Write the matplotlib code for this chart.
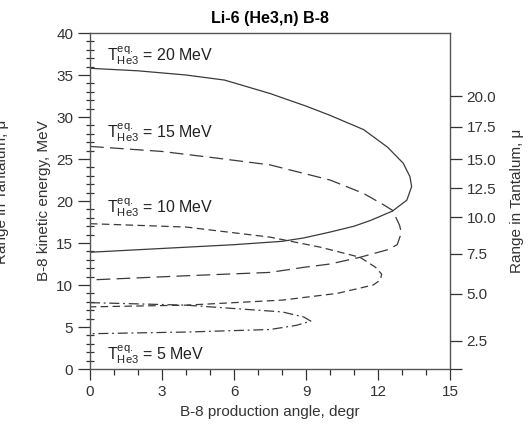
import matplotlib
matplotlib.use("Agg")
import matplotlib.pyplot as plt
from matplotlib.ticker import MultipleLocator

plt.rcParams['font.family'] = ['Liberation Sans', 'DejaVu Sans']
plt.rcParams['mathtext.default'] = 'regular'
plt.rcParams['font.size'] = 11

# B-8 angle (degr) vs kinetic energy (MeV), loop per He3 energy
ang_20 = [0, 2, 4, 5.6, 7.5, 9.0, 10.0, 11.4, 12.4, 13.05, 13.33, 13.4, 13.2, 12.6, 11.7, 11.0, 10.0, 8.9, 8.0, 6.0, 4.0, 2.0, 0]
en_20 = [35.8, 35.5, 35.0, 34.4, 32.8, 31.3, 30.2, 28.5, 26.4, 24.5, 22.9, 21.7, 20.1, 18.8, 17.7, 17.0, 16.3, 15.6, 15.2, 14.8, 14.5, 14.2, 13.9]

ang_15 = [0, 3, 5.3, 7.5, 10.0, 11.4, 12.2, 12.6, 12.9, 12.97, 12.8, 12.4, 11.25, 10.0, 8.9, 7.5, 4.0, 0]
en_15 = [26.5, 25.9, 25.1, 24.3, 22.5, 20.9, 19.6, 18.9, 17.1, 16.2, 14.8, 14.2, 13.3, 12.5, 12.1, 11.5, 11.1, 10.6]

ang_10 = [0, 4.0, 7.5, 9.6, 11.25, 11.9, 12.15, 12.1, 11.8, 10.3, 8.0, 4.0, 0]
en_10 = [17.3, 16.9, 15.7, 14.5, 13.3, 12.1, 11.3, 10.6, 10.0, 9.0, 8.2, 7.6, 7.4]

ang_5 = [0, 4.0, 8.0, 8.9, 9.2, 8.6, 7.5, 4.0, 0]
en_5 = [7.9, 7.6, 6.8, 6.2, 5.7, 5.2, 4.7, 4.4, 4.2]

labels = ['20', '15', '10', '5']
label_y = [37.3, 28.1, 19.2, 1.7]

# right axis: range in tantalum, placed at the matching energy
range_ticks = ['20.0', '17.5', '15.0', '12.5', '10.0', '7.5', '5.0', '2.5', '']
range_energy = [32.5, 28.85, 24.96, 21.5, 18.06, 13.7, 8.93, 3.37, 0]

fig = plt.figure(figsize=(5.31, 4.26), dpi=100)
ax = fig.add_axes([0.1695, 0.1338, 0.678, 0.7887])
lc = '#3a3a3a'

ax.plot(ang_20, en_20, color=lc, lw=0.9, ls='-')
ax.plot(ang_15, en_15, color=lc, lw=0.9, ls=(0, (11, 5)))
ax.plot(ang_10, en_10, color=lc, lw=0.9, ls=(0, (6, 3.5)))
ax.plot(ang_5, en_5, color=lc, lw=0.9, ls=(0, (8, 3, 1.5, 3)))

for lab, yy in zip(labels, label_y):
    ax.text(0.7, yy, r'T$^{eq.}_{He3}$ = ' + lab + ' MeV', fontsize=11.5,
            va='center', ha='left', color='#222222')

ax.set_xlim(0, 15)
ax.set_ylim(0, 40)
ax.xaxis.set_major_locator(MultipleLocator(3))
ax.xaxis.set_minor_locator(MultipleLocator(1))
ax.yaxis.set_major_locator(MultipleLocator(5))
ax.yaxis.set_minor_locator(MultipleLocator(1))
ax.tick_params(axis='x', which='major', direction='out', length=8, width=0.9, colors='#333333', labelsize=11)
ax.tick_params(axis='x', which='minor', direction='out', length=4, width=0.9, colors='#333333')
ax.tick_params(axis='y', which='major', direction='out', length=8.5, width=0.9, colors='#333333', labelsize=11)
ax.tick_params(axis='y', which='minor', direction='inout', length=6, width=0.9, colors='#333333')
for sp in ax.spines.values():
    sp.set_color('#555555')
    sp.set_linewidth(1.0)

ax.set_xlabel('B-8 production angle, degr', color='#333333', fontsize=11)
ax.set_ylabel('B-8 kinetic energy, MeV', color='#333333', fontsize=11, labelpad=4)
ax.set_title('Li-6 (He3,n) B-8', fontweight='bold', fontsize=11.5, pad=7)

ax2 = ax.twinx()
ax2.set_ylim(0, 40)
ax2.set_yticks(range_energy, range_ticks)
ax2.tick_params(axis='y', direction='out', length=8.5, width=0.9, colors='#333333', labelsize=11)
ax2.set_ylabel('Range in Tantalum, μ', color='#333333', fontsize=11, labelpad=10)
for sp in ax2.spines.values():
    sp.set_visible(False)

# clipped copy of the range label at the far left edge
fig.text(0.004, 0.55, 'Range in Tantalum, μ', rotation=90, ha='center', va='center',
         color='#333333', fontsize=11)

fig.savefig('out.png', dpi=100)
